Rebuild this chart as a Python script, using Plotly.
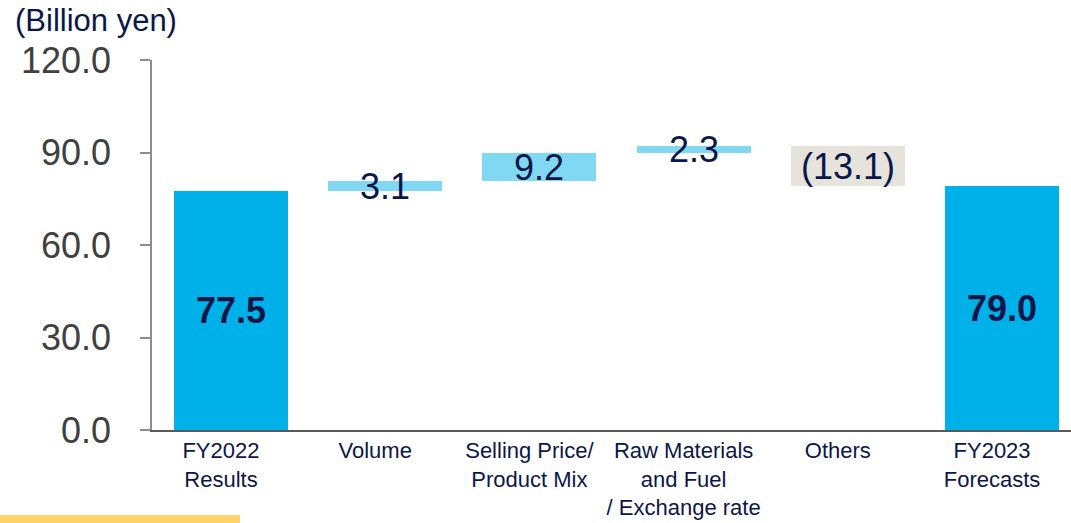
import plotly.graph_objects as go

categories = ["FY2022<br>Results", "Volume", "Selling Price/<br>Product Mix",
              "Raw Materials<br>and Fuel<br>/ Exchange rate", "Others", "FY2023<br>Forecasts"]
values = [77.5, 3.1, 9.2, 2.3, -13.1, 79.0]
kinds = ["total", "up", "up", "up", "down", "total"]
labels = ["77.5", "3.1", "9.2", "2.3", "(13.1)", "79.0"]
tick_vals = [0, 30, 60, 90, 120]
tick_text = ["0.0", "30.0", "60.0", "90.0", "120.0"]

colors = {"total": "#00b0e8", "up": "#80d8f2", "down": "#e6e3dc"}
navy = "#0b1748"

# compute floating bases
bases, heights = [], []
running = 0.0
for v, k in zip(values, kinds):
    if k == "total":
        bases.append(0.0)
        heights.append(v)
        running = v
    else:
        if v >= 0:
            bases.append(running)
            heights.append(v)
        else:
            bases.append(running + v)
            heights.append(-v)
        running += v

x_idx = list(range(len(categories)))

fig = go.Figure()
fig.add_trace(go.Bar(
    x=x_idx, y=heights, base=bases, width=0.74,
    marker=dict(color=[colors[k] for k in kinds], line=dict(width=0)),
    hoverinfo="skip", showlegend=False,
))

for i, (b, h, lab, k) in enumerate(zip(bases, heights, labels, kinds)):
    fig.add_annotation(
        x=i, y=b + h / 2, text=f"<b>{lab}</b>" if k == "total" else lab,
        showarrow=False, xanchor="center", yanchor="middle",
        font=dict(size=36, color=navy, family="Liberation Sans, Arial, sans-serif"),
    )

fig.add_annotation(
    xref="paper", yref="paper", x=-0.1513, y=1.108, text="(Billion yen)",
    showarrow=False, xanchor="left", yanchor="middle",
    font=dict(size=31, color=navy, family="Liberation Sans, Arial, sans-serif"),
)

# decorative yellow strip bottom-left
fig.add_shape(type="rect", xref="paper", yref="paper",
              x0=-0.1654, x1=0.0958, y0=-0.2514, y1=-0.2297,
              fillcolor="#ffd466", line=dict(width=0), layer="above")

fig.update_layout(
    width=1071, height=523,
    margin=dict(l=152, r=0, t=60, b=93, autoexpand=False),
    plot_bgcolor="white", paper_bgcolor="white",
    font=dict(family="Liberation Sans, Arial, sans-serif"),
    bargap=0,
    xaxis=dict(
        range=[-0.512, 5.447], tickmode="array", tickvals=x_idx, ticktext=categories,
        showgrid=False, zeroline=False, showline=True, linecolor="#595959", linewidth=1.5,
        ticks="", tickfont=dict(size=22, color=navy), tickangle=0, ticklabelshift=-10,
        automargin=False, fixedrange=True,
    ),
    yaxis=dict(
        range=[0, 120], tickmode="array", tickvals=tick_vals, ticktext=tick_text,
        showgrid=False, zeroline=False, showline=True, linecolor="#8c8c8c", linewidth=1.5,
        ticks="outside", ticklen=10, tickcolor="#8c8c8c", tickwidth=1.5,
        tickfont=dict(size=36, color="#404040"), ticklabelstandoff=22, automargin=False,
    ),
)

fig.write_html("out.html")
